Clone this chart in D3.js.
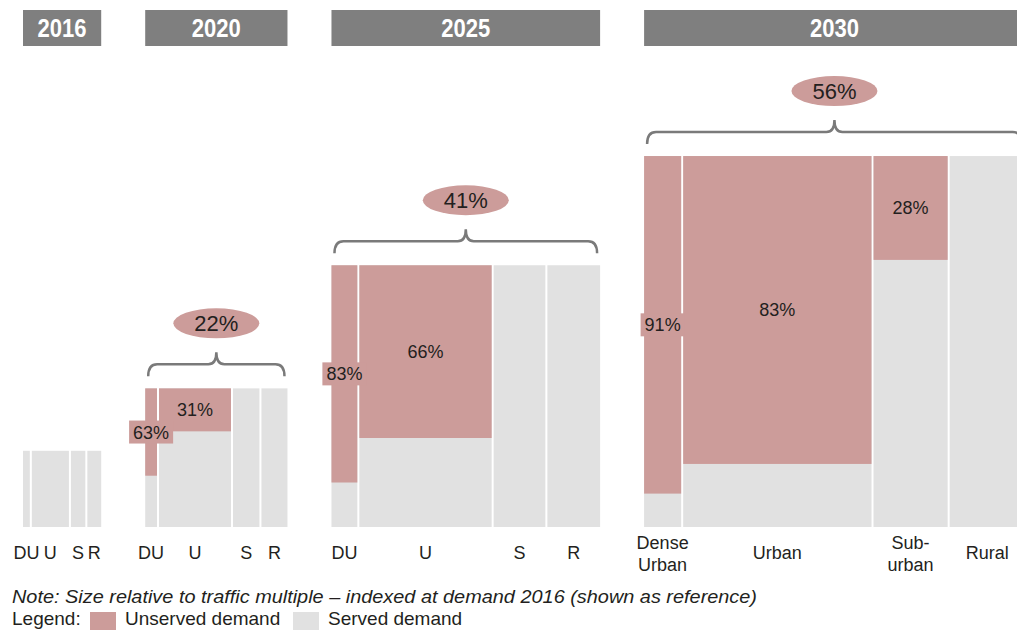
<!DOCTYPE html>
<html>
<head>
<meta charset="utf-8">
<script src="https://cdn.jsdelivr.net/npm/d3@7"></script>
<style>
  html, body { margin: 0; padding: 0; background: #fff; overflow: hidden; }
  svg { display: block; font-family: "Liberation Sans", Arial, Helvetica, sans-serif; }
</style>
</head>
<body>
<svg id="chart" width="1017" height="630"></svg>
<script>
// Demand snapshots, traffic multiple indexed to 2016 = 1
const years = ["2016", "2020", "2025", "2030"];
const demandIndex = [1, 3.31, 11.8, 23.7];

// Area types
const areaShort = ["DU", "U", "S", "R"];
const areaLong = [["Dense", "Urban"], ["Urban"], ["Sub-", "urban"], ["Rural"]];

// Share of each year's demand per area type (%)
const areaShare = [
  [10, 50, 21, 19],
  [9, 52, 20, 19],
  [10, 50, 20, 20],
  [10, 50, 20, 20]
];

// Unserved demand per area type (%)
const unservedPct = [
  [0, 0, 0, 0],
  [63, 31, 0, 0],
  [83, 66, 0, 0],
  [91, 83, 28, 0]
];

// Unserved demand across all areas (%)
const totalUnservedPct = [null, 22, 41, 56];

const COL_UNSERVED = "#cc9c9a";
const COL_SERVED = "#e1e1e1";
const COL_HEADER = "#7f7f7f";
const COL_BRACE = "#7a7a7a";
const COL_TEXT = "#231f20";

const svg = d3.select("#chart");

const baseline = 527;
const startX = 23;
const groupGap = 44;

// Block size follows the square root of demand, so area ~ demand
const widthScale = d3.scaleSqrt().domain([0, 1]).range([0, 78.2]);
const heightScale = d3.scaleSqrt().domain([0, 1]).range([0, 76.2]);

let gx = startX;
years.forEach((year, i) => {
  const w = widthScale(demandIndex[i]);
  const h = heightScale(demandIndex[i]);
  const top = baseline - h;
  const x = d3.scaleLinear().domain([0, 100]).range([gx, gx + w]);
  const y = d3.scaleLinear().domain([0, 100]).range([top, baseline]);
  const g = svg.append("g").attr("class", "year-" + year);

  // Year header
  g.append("rect")
    .attr("x", gx).attr("y", 10)
    .attr("width", w).attr("height", 36)
    .attr("fill", COL_HEADER);
  g.append("text")
    .attr("x", gx + w / 2).attr("y", 37)
    .attr("text-anchor", "middle")
    .attr("font-size", 25).attr("font-weight", "bold")
    .attr("fill", "#fff")
    .attr("textLength", 49).attr("lengthAdjust", "spacingAndGlyphs")
    .text(year);

  // Columns
  const shares = areaShare[i];
  const cum = d3.cumsum([0].concat(shares));
  const cols = shares.map((s, j) => {
    const x0 = x(cum[j]) + (j > 0 ? 1 : 0);
    const x1 = x(cum[j + 1]) - (j < shares.length - 1 ? 1 : 0);
    return { j, x0, x1, pct: unservedPct[i][j] };
  });

  g.selectAll("rect.served").data(cols).join("rect")
    .attr("class", "served")
    .attr("x", d => d.x0).attr("y", top)
    .attr("width", d => d.x1 - d.x0).attr("height", h)
    .attr("fill", COL_SERVED);

  g.selectAll("rect.unserved").data(cols.filter(d => d.pct > 0)).join("rect")
    .attr("class", "unserved")
    .attr("x", d => d.x0).attr("y", top)
    .attr("width", d => d.x1 - d.x0).attr("height", d => y(d.pct) - top)
    .attr("fill", COL_UNSERVED);

  // Percent labels, centred in the unserved part; narrow columns get a backing tag
  cols.filter(d => d.pct > 0).forEach(d => {
    const cx = (d.x0 + d.x1) / 2;
    const cy = (top + y(d.pct)) / 2;
    const lg = g.append("g");
    const t = lg.append("text")
      .attr("x", cx).attr("y", cy + 6.5)
      .attr("text-anchor", "middle")
      .attr("font-size", 18)
      .attr("fill", COL_TEXT)
      .text(d.pct + "%");
    const tw = t.node().getComputedTextLength();
    if (tw > d.x1 - d.x0 - 4) {
      lg.insert("rect", "text")
        .attr("x", cx - tw / 2 - 4).attr("y", cy - 11.5)
        .attr("width", tw + 8).attr("height", 23)
        .attr("fill", COL_UNSERVED);
    }
  });

  // Area labels under the columns
  cols.forEach(d => {
    const cx = (d.x0 + d.x1) / 2;
    const lines = i === years.length - 1 ? areaLong[d.j] : [areaShort[d.j]];
    const t = g.append("text")
      .attr("x", cx)
      .attr("y", lines.length === 1 ? 559 : 549)
      .attr("text-anchor", "middle")
      .attr("font-size", 18)
      .attr("fill", COL_TEXT);
    lines.forEach((ln, k) => {
      t.append("tspan").attr("x", cx).attr("dy", k === 0 ? 0 : 22).text(ln);
    });
  });

  // Brace and overall unserved badge
  if (totalUnservedPct[i] != null) {
    const xl = gx + 3, xr = gx + w - 3, xc = gx + w / 2;
    const yEnd = top - 12, yH = top - 24, yPeak = top - 36;
    const p = d3.path();
    p.moveTo(xl, yEnd);
    p.quadraticCurveTo(xl, yH, xl + 9, yH);
    p.lineTo(xc - 8, yH);
    p.quadraticCurveTo(xc, yH, xc, yPeak);
    p.quadraticCurveTo(xc, yH, xc + 8, yH);
    p.lineTo(xr - 9, yH);
    p.quadraticCurveTo(xr, yH, xr, yEnd);
    g.append("path")
      .attr("d", p.toString())
      .attr("fill", "none")
      .attr("stroke", COL_BRACE)
      .attr("stroke-width", 2.5);

    g.append("ellipse")
      .attr("cx", xc).attr("cy", top - 65)
      .attr("rx", 43).attr("ry", 15)
      .attr("fill", COL_UNSERVED);
    g.append("text")
      .attr("x", xc).attr("y", top - 65 + 8)
      .attr("text-anchor", "middle")
      .attr("font-size", 22)
      .attr("fill", COL_TEXT)
      .text(totalUnservedPct[i] + "%");
  }

  gx += w + groupGap;
});

// Footnote and legend
svg.append("text")
  .attr("x", 12).attr("y", 603)
  .attr("font-size", 19).attr("font-style", "italic")
  .attr("fill", COL_TEXT)
  .attr("textLength", 745).attr("lengthAdjust", "spacingAndGlyphs")
  .text("Note: Size relative to traffic multiple \u2013 indexed at demand 2016 (shown as reference)");

const legend = svg.append("g").attr("font-size", 19).attr("fill", COL_TEXT);
legend.append("text").attr("x", 12).attr("y", 625).text("Legend:");
const legendItems = [
  { label: "Unserved demand", color: COL_UNSERVED, x: 90 },
  { label: "Served demand", color: COL_SERVED, x: 293 }
];
legendItems.forEach(d => {
  legend.append("rect").attr("x", d.x).attr("y", 612)
    .attr("width", 26).attr("height", 19).attr("fill", d.color);
  legend.append("text").attr("x", d.x + 35).attr("y", 625).text(d.label);
});
</script>
</body>
</html>
